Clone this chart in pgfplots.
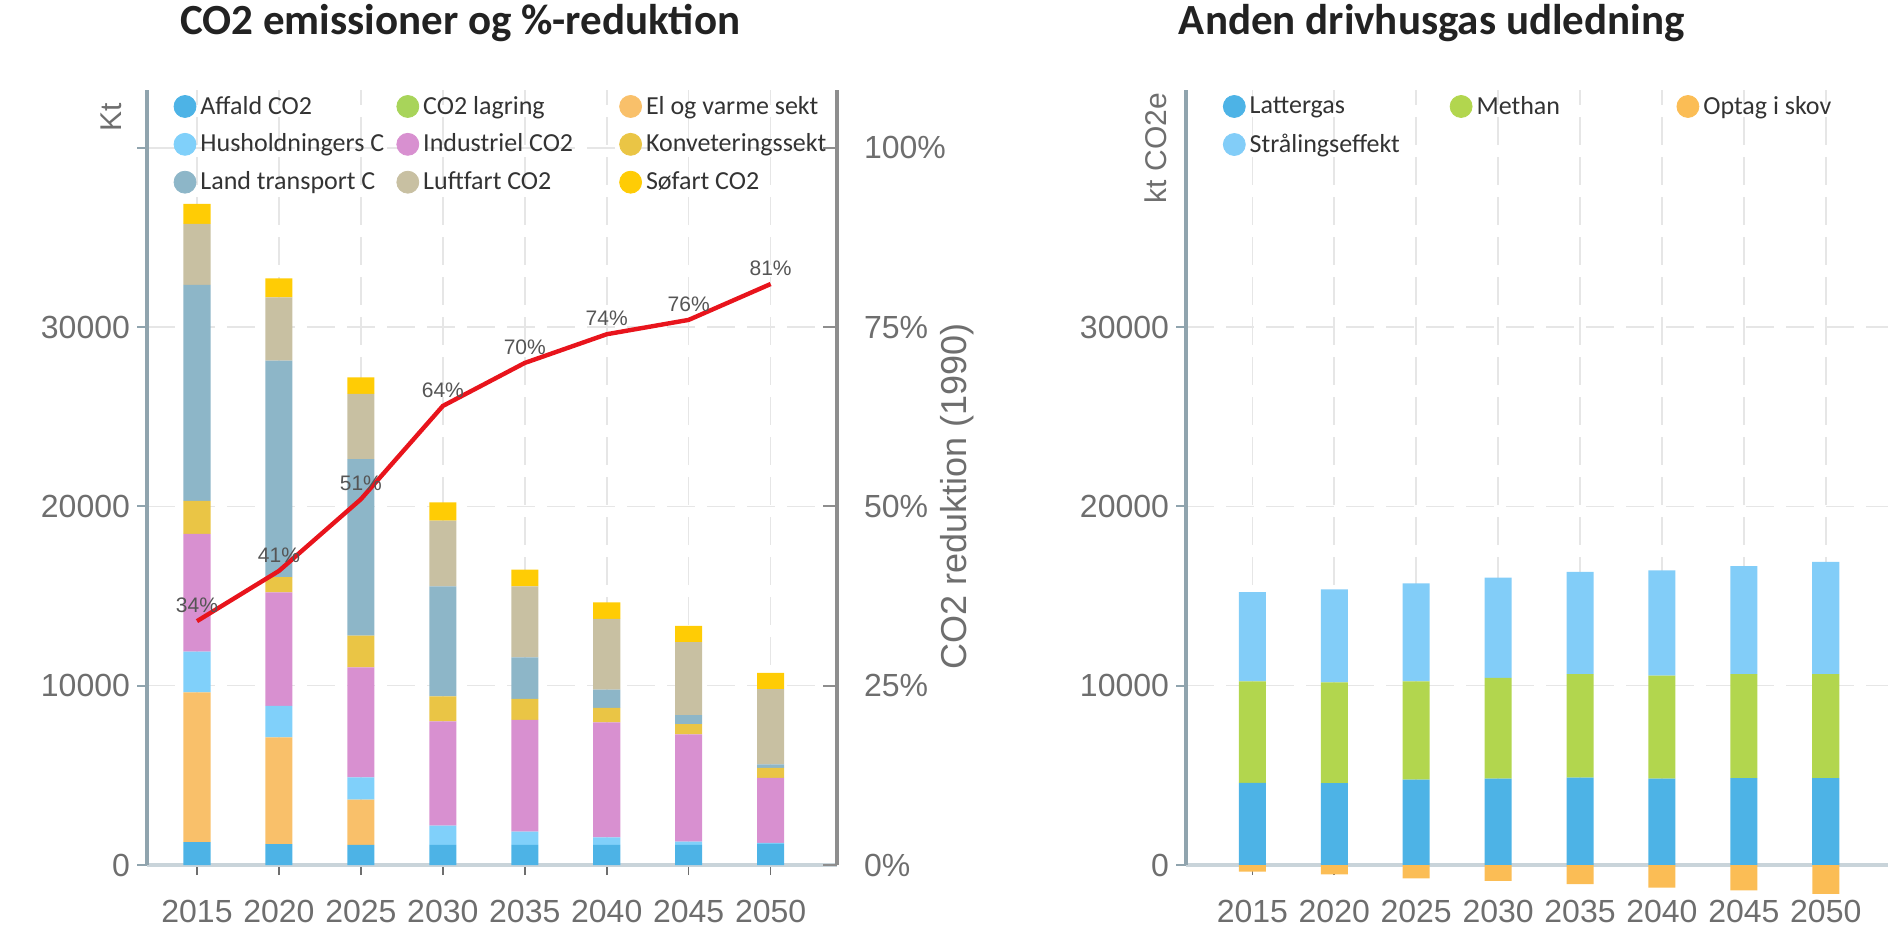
\documentclass[border=0pt]{standalone}
\usepackage{fontspec}
\setmainfont{Liberation Sans}
\newfontfamily\carlito{Carlito}
\usepackage{pgfplots}
\usepackage{pgfplotstable}
\pgfplotsset{compat=1.18}
\definecolor{caff}{HTML}{4DB3E6}
\definecolor{clag}{HTML}{A8D45A}
\definecolor{cel}{HTML}{F9C06A}
\definecolor{chus}{HTML}{80D0FA}
\definecolor{cind}{HTML}{D890D0}
\definecolor{ckonv}{HTML}{EAC545}
\definecolor{cland}{HTML}{8DB6C8}
\definecolor{cluft}{HTML}{C8C0A2}
\definecolor{cso}{HTML}{FFCC05}
\definecolor{clatt}{HTML}{4DB3E6}
\definecolor{cmeth}{HTML}{B2D64E}
\definecolor{copt}{HTML}{FBBD55}
\definecolor{cstrl}{HTML}{82CDF8}
\definecolor{redc}{HTML}{E8141C}
\definecolor{gridc}{HTML}{E6E6E6}
\definecolor{tickc}{HTML}{6E6E6E}
\definecolor{yaxc}{HTML}{90A4AE}
\definecolor{raxc}{HTML}{8E8E8E}
\definecolor{xaxc}{HTML}{C9D4DA}
\definecolor{legc}{HTML}{333333}
\definecolor{titc}{HTML}{222222}
\definecolor{pctc}{HTML}{555555}
\newcommand{\legdot}[1]{\addlegendimage{legend image code/.code={\fill[#1] (4pt,0pt) circle (5.5pt);}}}
\pgfplotstableread{
x aff lag el hus ind konv land luft so pct
0 1280 0 8350 2270 6560 1850 12040 3400 1120 34
1 1170 0 5950 1760 6320 860 12070 3530 1060 41
2 1130 0 2510 1250 6130 1770 9850 3630 930 51
3 1130 0 0 1060 5820 1400 6130 3660 1020 64
4 1130 0 0 730 6230 1170 2320 3960 930 70
5 1130 0 0 410 6420 800 1020 3940 930 74
6 1120 0 0 190 5980 560 510 4070 900 76
7 1180 0 0 50 3630 560 190 4200 900 81
}\dA
\pgfplotstableread{
x latt meth strl opt
0 4580 5660 4980 -370
1 4570 5620 5180 -520
2 4760 5480 5460 -740
3 4820 5610 5590 -890
4 4870 5780 5700 -1070
5 4820 5740 5870 -1260
6 4850 5800 6020 -1420
7 4850 5800 6260 -1610
}\dB
\pgfplotsset{
  /pgf/number format/assume math mode=true,
  geomL/.style={at={(73.5pt,-432.5pt)}, anchor=south west, scale only axis,
    width=345pt, height=387.5pt, xmin=-0.61, xmax=7.81, clip=false},
  geomR/.style={at={(593pt,-432.5pt)}, anchor=south west, scale only axis,
    width=351pt, height=387.5pt, xmin=-0.81, xmax=7.76, clip=false},
  basestyle/.style={
    ymin=0, ymax=43220, scaled y ticks=false,
    axis x line*=bottom, axis y line*=left,
    x axis line style={-, color=xaxc, line width=2pt},
    y axis line style={-, color=yaxc, line width=1.8pt},
    xtick={0,...,7}, xticklabels={2015,2020,2025,2030,2035,2040,2045,2050},
    tick align=outside, major tick length=5pt,
    xtick style={color=tickc, line width=0.8pt},
    ytick style={color=yaxc, line width=1pt},
    ticklabel style={font=\fontsize{16}{19}\selectfont, text=tickc},
    xticklabel style={yshift=-9pt},
    grid=major, major grid style={color=gridc, line width=0.8pt, dash pattern=on 14pt off 6pt},
  },
  legstyle/.style={legend style={draw=none, fill=none, anchor=north west,
    font=\carlito\fontsize{13}{15}\selectfont, text=legc, legend columns=3,
    row sep=4.4pt, inner sep=0pt}},
}
\begin{document}
\begin{tikzpicture}
\useasboundingbox (0pt,0pt) rectangle (944pt,-468.5pt);
% ---------------- left chart ----------------
\begin{axis}[geomL, basestyle,
  ybar stacked, bar width=0.33,
  ytick={0,10000,20000,30000,40000}, yticklabels={0,10000,20000,30000,{}},
  title={CO2 emissioner og \%-reduktion},
  title style={at={(axis description cs:0.454,1.086)}, anchor=center, yshift=-6pt,
    font=\carlito\bfseries\fontsize{21.5}{25}\selectfont, text=titc},
  ylabel={Kt},
  every axis y label/.style={at={(axis description cs:-0.052,0.965)}, rotate=90,
    anchor=center, font=\fontsize{15}{18}\selectfont, text=tickc},
]
\addplot[fill=caff, draw=none] table[x=x, y=aff]{\dA};
\addplot[fill=clag, draw=none] table[x=x, y=lag]{\dA};
\addplot[fill=cel, draw=none] table[x=x, y=el]{\dA};
\addplot[fill=chus, draw=none] table[x=x, y=hus]{\dA};
\addplot[fill=cind, draw=none] table[x=x, y=ind]{\dA};
\addplot[fill=ckonv, draw=none] table[x=x, y=konv]{\dA};
\addplot[fill=cland, draw=none] table[x=x, y=land]{\dA};
\addplot[fill=cluft, draw=none] table[x=x, y=luft]{\dA};
\addplot[fill=cso, draw=none] table[x=x, y=so]{\dA};
\end{axis}
\begin{axis}[geomL, ymin=0, ymax=108.05,
  axis x line=none, axis y line*=right,
  y axis line style={-, color=raxc, line width=2pt},
  ytick={0,25,50,75,100}, yticklabels={0\%,25\%,50\%,75\%,100\%},
  tick align=inside, major tick length=7pt,
  ytick style={color=raxc, line width=1pt},
  yticklabel style={font=\fontsize{16}{19}\selectfont, text=tickc, anchor=west, xshift=10pt},
  ylabel={CO2 reduktion (1990)},
  every axis y label/.style={at={(axis description cs:1.174,0.475)}, rotate=90,
    anchor=center, font=\fontsize{18}{21}\selectfont, text=tickc},
  legstyle, legend style={at={(axis description cs:0.038,0.998)}},
]
\addplot[color=redc, line width=2.2pt, forget plot, point meta=y,
  nodes near coords={\pgfmathprintnumber{\pgfplotspointmeta}\%},
  every node near coord/.append style={font=\fontsize{10.5}{12}\selectfont, text=pctc,
    anchor=center, yshift=8pt}] table[x=x, y=pct]{\dA};
\legdot{caff}\addlegendentry{\makebox[96pt][l]{Affald CO2}}
\legdot{clag}\addlegendentry{\makebox[96pt][l]{CO2 lagring}}
\legdot{cel}\addlegendentry{\makebox[96pt][l]{El og varme sekt}}
\legdot{chus}\addlegendentry{\makebox[96pt][l]{Husholdningers C}}
\legdot{cind}\addlegendentry{\makebox[96pt][l]{Industriel CO2}}
\legdot{ckonv}\addlegendentry{\makebox[96pt][l]{Konveteringssekt}}
\legdot{cland}\addlegendentry{\makebox[96pt][l]{Land transport C}}
\legdot{cluft}\addlegendentry{\makebox[96pt][l]{Luftfart CO2}}
\legdot{cso}\addlegendentry{\makebox[96pt][l]{Søfart CO2}}
\end{axis}
% ---------------- right chart ----------------
\begin{axis}[geomR, basestyle,
  ybar stacked, bar width=0.33,
  ytick={0,10000,20000,30000}, yticklabels={0,10000,20000,30000},
  title={Anden drivhusgas udledning},
  title style={at={(axis description cs:0.350,1.086)}, anchor=center, yshift=-6pt,
    font=\carlito\bfseries\fontsize{21.5}{25}\selectfont, text=titc},
  ylabel={kt CO2e},
  every axis y label/.style={at={(axis description cs:-0.043,0.925)}, rotate=90,
    anchor=center, font=\fontsize{15}{18}\selectfont, text=tickc},
]
\addplot[fill=clatt, draw=none] table[x=x, y=latt]{\dB};
\addplot[fill=cmeth, draw=none] table[x=x, y=meth]{\dB};
\addplot[fill=cstrl, draw=none] table[x=x, y=strl]{\dB};
\end{axis}
\begin{axis}[geomR, ymin=0, ymax=43220, hide axis, ybar, bar width=0.33,
  legstyle, legend style={at={(axis description cs:0.052,0.998)}}]
\addplot[fill=copt, draw=none, bar shift=0pt, forget plot] table[x=x, y=opt]{\dB};
\legdot{clatt}\addlegendentry{\makebox[98pt][l]{Lattergas}}
\legdot{cmeth}\addlegendentry{\makebox[98pt][l]{Methan}}
\legdot{copt}\addlegendentry{\makebox[98pt][l]{Optag i skov}}
\legdot{cstrl}\addlegendentry{\makebox[98pt][l]{Strålingseffekt}}
\end{axis}
\end{tikzpicture}
\end{document}
